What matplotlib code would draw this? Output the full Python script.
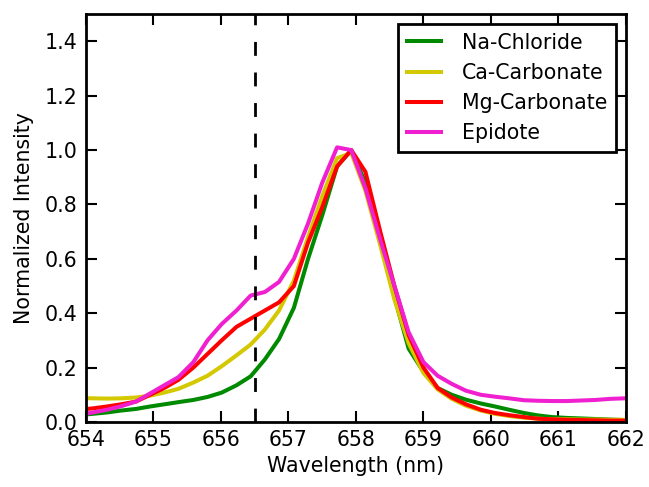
import numpy as np
import matplotlib
matplotlib.use("Agg")
from matplotlib import pyplot as plt

wavelength = [653.88, 654.10, 654.31, 654.52, 654.74, 654.95, 655.16, 655.37, 655.59, 655.80,
              656.01, 656.23, 656.44, 656.65, 656.86, 657.08, 657.29, 657.50, 657.72, 657.93,
              658.14, 658.36, 658.57, 658.78, 659.00, 659.21, 659.42, 659.63, 659.85, 660.06,
              660.27, 660.49, 660.70, 660.91, 661.12, 661.34, 661.55, 661.76, 661.98]

na_chloride = [0.025, 0.03, 0.035, 0.042, 0.048, 0.057, 0.065, 0.073, 0.081, 0.092,
               0.108, 0.135, 0.168, 0.23, 0.305, 0.42, 0.6, 0.76, 0.94, 1.0,
               0.88, 0.68, 0.46, 0.27, 0.185, 0.125, 0.1, 0.082, 0.068, 0.057,
               0.045, 0.033, 0.024, 0.018, 0.015, 0.013, 0.011, 0.009, 0.007]

ca_carbonate = [0.088, 0.087, 0.086, 0.087, 0.09, 0.097, 0.108, 0.122, 0.145, 0.17,
                0.205, 0.245, 0.285, 0.34, 0.41, 0.52, 0.68, 0.83, 0.97, 0.99,
                0.85, 0.65, 0.45, 0.29, 0.18, 0.12, 0.085, 0.06, 0.042, 0.03,
                0.022, 0.016, 0.012, 0.01, 0.01, 0.009, 0.009, 0.008, 0.008]

mg_carbonate = [0.045, 0.05, 0.057, 0.065, 0.075, 0.1, 0.125, 0.155, 0.2, 0.25,
                0.3, 0.35, 0.38, 0.41, 0.44, 0.5, 0.66, 0.79, 0.94, 1.0,
                0.92, 0.7, 0.5, 0.32, 0.2, 0.125, 0.09, 0.065, 0.045, 0.033,
                0.025, 0.018, 0.012, 0.01, 0.008, 0.007, 0.006, 0.005, 0.005]

epidote = [0.025, 0.035, 0.045, 0.058, 0.075, 0.105, 0.135, 0.165, 0.22, 0.3,
           0.36, 0.41, 0.465, 0.478, 0.515, 0.6, 0.73, 0.88, 1.01, 1.0,
           0.86, 0.67, 0.5, 0.33, 0.22, 0.17, 0.14, 0.115, 0.1, 0.093,
           0.087, 0.08, 0.078, 0.077, 0.077, 0.079, 0.081, 0.085, 0.087]

labels = ['Na-Chloride', 'Ca-Carbonate', 'Mg-Carbonate', 'Epidote']
colors = ['#008a00', '#d4c800', '#ff0000', '#f020d0']
series = [na_chloride, ca_carbonate, mg_carbonate, epidote]
line_pos = 656.5

fs = 14.8
fig = plt.figure(figsize=(6.49, 4.87), dpi=100)
ax = fig.add_axes([0.1325, 0.1335, 0.832, 0.8375])

for y, c, l in zip(series, colors, labels):
    ax.plot(wavelength, y, color=c, lw=2.9, label=l)
ax.axvline(line_pos, color='k', lw=2, ls=(0, (5, 6)))

ax.set_xlim(654, 662)
ax.set_ylim(0, 1.5)
ax.set_xticks(np.arange(654, 663, 1))
ax.set_yticks(np.arange(0, 1.5, 0.2))
ax.set_xlabel('Wavelength (nm)', fontsize=fs)
ax.set_ylabel('Normalized Intensity', fontsize=fs, labelpad=8)
ax.tick_params(direction='in', top=True, right=True, length=8, width=1.5, labelsize=fs, pad=6)
for s in ax.spines.values():
    s.set_linewidth(2)

leg = ax.legend(loc='upper right', fontsize=fs, fancybox=False, framealpha=1,
                handlelength=1.65, borderaxespad=0.5, handletextpad=1.05, labelspacing=0.5)
leg.get_frame().set_edgecolor('k')
leg.get_frame().set_linewidth(2)

fig.savefig('out.png', dpi=100)
